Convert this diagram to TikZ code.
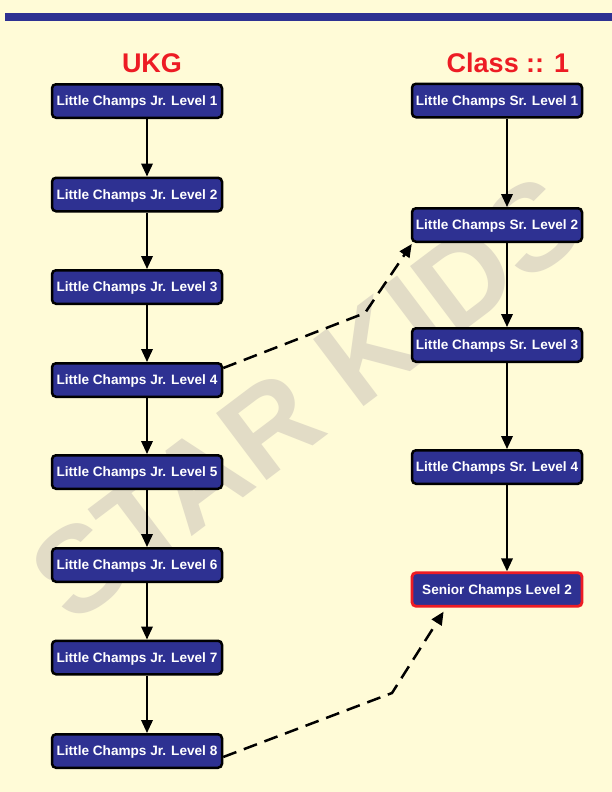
\documentclass[tikz,border=0pt]{standalone}
\usepackage{fontspec}
\setmainfont{Liberation Sans}
\usetikzlibrary{arrows.meta,calc}
\definecolor{bg}{HTML}{FFFBD7}
\definecolor{navy}{HTML}{2E3192}
\definecolor{redt}{HTML}{ED1C24}
\definecolor{wm}{HTML}{E2DCC6}
\begin{document}
\begin{tikzpicture}[x=1pt,y=-1pt,
  box/.style={draw=black, line width=2.5pt, fill=navy, rounded corners=4pt,
    minimum width=170pt, minimum height=33.5pt, inner sep=0pt, text=white,
    text height=9.8pt, text depth=0pt,
    font=\bfseries\fontsize{13.6}{16}\selectfont},
  redbox/.style={box, draw=redt, line width=2.8pt},
  title/.style={text=redt, inner sep=0pt, font=\bfseries\fontsize{27}{30}\selectfont},
  flow/.style={line width=2pt, -{Triangle[length=13pt,width=11.5pt]}},
  jump/.style={line width=2.5pt, dash pattern=on 14pt off 8pt, -{Triangle[length=13pt,width=11.5pt]}},
  watermark/.style={text=wm, inner sep=0pt, font=\bfseries\fontsize{122}{122}\selectfont}
]
\useasboundingbox (0,0) rectangle (612,792);
\fill[bg] (0,0) rectangle (612,792);
\fill[navy] (5,13) rectangle (612,21);

\node[watermark, rotate=37] (wmark) at (306,398) {STAR KIDS};

\node[title] (ukg) at (152,63) {UKG};
\node[title] (cls) at (508,63) {Class :: 1};

\node[box] (j1) at (137,101) {Little Champs Jr. Level 1};
\node[box] (j2) at (137,194.5) {Little Champs Jr. Level 2};
\node[box] (j3) at (137,287) {Little Champs Jr. Level 3};
\node[box] (j4) at (137,380) {Little Champs Jr. Level 4};
\node[box] (j5) at (137,472) {Little Champs Jr. Level 5};
\node[box] (j6) at (137,565) {Little Champs Jr. Level 6};
\node[box] (j7) at (137,657.5) {Little Champs Jr. Level 7};
\node[box] (j8) at (137,751) {Little Champs Jr. Level 8};

\node[box] (s1) at (497,100.5) {Little Champs Sr. Level 1};
\node[box] (s2) at (497,225) {Little Champs Sr. Level 2};
\node[box] (s3) at (497,345) {Little Champs Sr. Level 3};
\node[box] (s4) at (497,467) {Little Champs Sr. Level 4};
\node[redbox] (sc) at (497,589.5) {Senior Champs Level 2};

\foreach \a/\b in {j1/j2,j2/j3,j3/j4,j4/j5,j5/j6,j6/j7,j7/j8,s1/s2,s2/s3,s3/s4,s4/sc}
  \draw[flow] ([xshift=10pt]\a.south) -- ([xshift=10pt]\b.north);

\coordinate (bend1) at (365,313);
\coordinate (bend2) at (392,693);
\draw[jump] ([yshift=12pt]j4.east) -- (bend1) -- ([xshift=1pt,yshift=-1pt]s2.south west);
\draw[jump] ([yshift=-6pt]j8.east) -- (bend2) -- ([xshift=33pt,yshift=-4pt]sc.south west);
\end{tikzpicture}
\end{document}
